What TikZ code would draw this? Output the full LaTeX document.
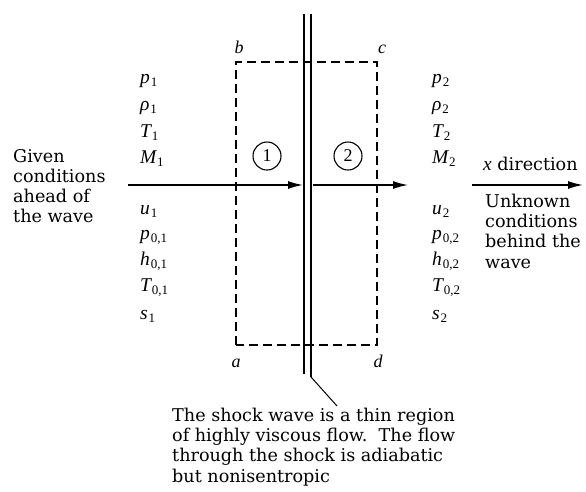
\documentclass[tikz,border=0pt]{standalone}
\usepackage{fontspec}
\setmainfont{DejaVu Serif}
\newfontfamily\varfont{Liberation Serif}
\usetikzlibrary{arrows.meta}
\newcommand\vv[2]{{\varfont\itshape #1}\kern0.8pt\raisebox{-0.35ex}{\varfont\fontsize{13}{13}\selectfont #2}}
\begin{document}
\begin{tikzpicture}[x=1pt,y=-1pt,
  lbl/.style={anchor=base west,inner sep=0pt,font=\varfont\fontsize{19.5}{20}\selectfont},
  txt/.style={anchor=north west,inner sep=0pt,align=left,font=\fontsize{17.6}{20.2}\selectfont},
  corner/.style={anchor=base,inner sep=0pt,font=\varfont\fontsize{18}{18}\selectfont\itshape},
  dashbox/.style={line width=1.1pt,dash pattern=on 9pt off 5pt},
  shock/.style={line width=1.3pt},
  flow/.style={line width=1.4pt,-{Latex[length=15pt,width=8pt]}},
  circ/.style={circle,draw,line width=1.1pt,minimum size=28pt,inner sep=0pt,font=\varfont\fontsize{18}{18}\selectfont}]
\useasboundingbox (0,0) rectangle (586,491);
% dashed control volume
\coordinate (a) at (236,345);
\coordinate (b) at (236,62);
\coordinate (c) at (377,62);
\coordinate (d) at (377,345);
\draw[dashbox] (a) -- (b) -- (c) -- (d) -- cycle;
\node[corner] (la) at (236,367) {a};
\node[corner] (lb) at (239,53) {b};
\node[corner] (lc) at (382,53) {c};
\node[corner] (ld) at (378,367) {d};
% shock wave
\coordinate (s1t) at (304,14); \coordinate (s1b) at (304,374);
\coordinate (s2t) at (311,14); \coordinate (s2b) at (311,377);
\draw[shock] (s1t) -- (s1b);
\draw[shock] (s2t) -- (s2b);
% circles
\node[circ] (c1) at (267,156) {1};
\node[circ] (c2) at (348,156) {2};
% flow arrows
\coordinate (f1s) at (128,185); \coordinate (f1e) at (303,185);
\coordinate (f2s) at (313,185); \coordinate (f2e) at (408,185);
\draw[flow] (f1s) -- (f1e);
\draw[flow] (f2s) -- (f2e);
\coordinate (xs) at (472,185); \coordinate (xe) at (583,185);
\draw[flow] (xs) -- (xe);
\node[anchor=base west,inner sep=0pt,font=\fontsize{17.6}{20}\selectfont] (xdir) at (483,170) {{\varfont\itshape\fontsize{19.5}{19}\selectfont x} direction};
% left variables
\node[lbl] (p1) at (140,83) {\vv{p}{1}};
\node[lbl] (r1) at (140,110) {\vv{ρ}{1}};
\node[lbl] (T1) at (140,137) {\vv{T}{1}};
\node[lbl] (M1) at (140,163) {\vv{M}{1}};
\node[lbl] (u1) at (140,214) {\vv{u}{1}};
\node[lbl] (p01) at (140,239) {\vv{p}{0,1}};
\node[lbl] (h01) at (140,265) {\vv{h}{0,1}};
\node[lbl] (T01) at (140,291) {\vv{T}{0,1}};
\node[lbl] (s1) at (140,319) {\vv{s}{1}};
% right variables
\node[lbl] (p2) at (432,83) {\vv{p}{2}};
\node[lbl] (r2) at (432,110) {\vv{ρ}{2}};
\node[lbl] (T2) at (432,137) {\vv{T}{2}};
\node[lbl] (M2) at (432,163) {\vv{M}{2}};
\node[lbl] (u2) at (432,214) {\vv{u}{2}};
\node[lbl] (p02) at (432,239) {\vv{p}{0,2}};
\node[lbl] (h02) at (432,265) {\vv{h}{0,2}};
\node[lbl] (T02) at (432,291) {\vv{T}{0,2}};
\node[lbl] (s2) at (432,319) {\vv{s}{2}};
% side texts
\node[txt] (given) at (13,149) {Given\\conditions\\ahead of\\the wave};
\node[txt] (unknown) at (485,194) {Unknown\\conditions\\behind the\\wave};
% bottom note
\node[txt] (note) at (172,408) {The shock wave is a thin region\\of highly viscous flow.\ \ The flow\\through the shock is adiabatic\\but nonisentropic};
\coordinate (lead) at (337,406);
\draw[line width=1pt] (s2b) -- (lead);
\end{tikzpicture}
\end{document}
